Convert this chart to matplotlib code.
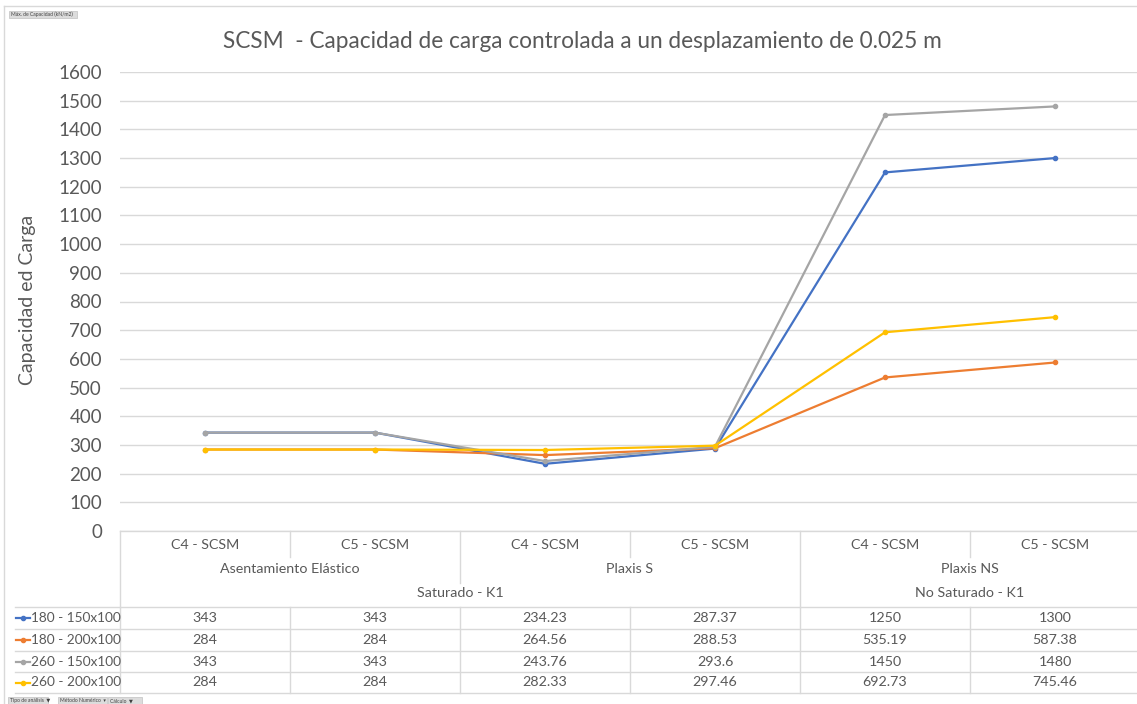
import matplotlib
matplotlib.use("Agg")
import matplotlib.pyplot as plt
from matplotlib.lines import Line2D
from matplotlib.patches import Rectangle

# ---- data -------------------------------------------------------------
categories = ["C4 - SCSM", "C5 - SCSM", "C4 - SCSM", "C5 - SCSM", "C4 - SCSM", "C5 - SCSM"]
methods = ["Asentamiento Elástico", "Plaxis S", "Plaxis NS"]
conditions = ["Saturado - K1", "No Saturado - K1"]
series_names = ["180 - 150x100", "180 - 200x100", "260 - 150x100", "260 - 200x100"]
s_180_150 = [343, 343, 234.23, 287.37, 1250, 1300]
s_180_200 = [284, 284, 264.56, 288.53, 535.19, 587.38]
s_260_150 = [343, 343, 243.76, 293.6, 1450, 1480]
s_260_200 = [284, 284, 282.33, 297.46, 692.73, 745.46]
y_ticks = list(range(0, 1700, 100))

series_values = [s_180_150, s_180_200, s_260_150, s_260_200]
colors = ["#4472C4", "#ED7D31", "#A5A5A5", "#FFC000"]

# ---- figure / pixel helpers ------------------------------------------
W, H = 1137, 704
fig = plt.figure(figsize=(W / 100, H / 100), dpi=100)
plt.rcParams["font.family"] = ["Lato", "DejaVu Sans"]

def fx(x):
    return x / W

def fy(y):
    return 1 - y / H

TXT = "#595959"
GRID = "#d9d9d9"
TABLE_FS = 10.3

# plot area
x0, x1 = 120, 1140
ytop, ybot = 72, 531
ax = fig.add_axes([fx(x0), fy(ybot), (x1 - x0) / W, (ybot - ytop) / H])
xs = list(range(len(categories)))
for vals, col in zip(series_values, colors):
    ax.plot(xs, vals, color=col, lw=1.6, marker="o", ms=3.0, mec=col, mfc=col,
            solid_joinstyle="round")

ax.set_xlim(-0.5, len(categories) - 0.5)
ax.set_ylim(0, 1600)
ax.set_yticks(y_ticks)
ax.set_xticks([])
ax.tick_params(axis="y", length=0, pad=13, labelsize=13.5, labelcolor=TXT)
ax.grid(axis="y", color=GRID, lw=1)
ax.set_axisbelow(True)
for side in ["top", "right", "left"]:
    ax.spines[side].set_visible(False)
ax.spines["bottom"].set_color(GRID)
ax.spines["bottom"].set_linewidth(1)

fig.text(fx(28), fy(300), "Capacidad ed Carga", rotation=90, ha="center", va="center",
         fontsize=14, color=TXT)
fig.text(fx(582), fy(42), "SCSM  - Capacidad de carga controlada a un desplazamiento de 0.025 m",
         ha="center", va="center", fontsize=16.3, color=TXT)

# ---- data table -------------------------------------------------------
col_w = 170
col_edges = [x0 + i * col_w for i in range(len(categories) + 1)]

def hline(y, xa, xb):
    fig.add_artist(Line2D([fx(xa), fx(xb)], [fy(y), fy(y)], color=GRID, lw=1))

def vline(x, ya, yb):
    fig.add_artist(Line2D([fx(x), fx(x)], [fy(ya), fy(yb)], color=GRID, lw=1))

# header block
vline(x0, ybot, 607)
for i, cat in enumerate(categories):
    cx = x0 + (i + 0.5) * col_w
    fig.text(fx(cx), fy(545), cat, ha="center", va="center", fontsize=TABLE_FS, color=TXT)
for i in (1, 3, 5):
    vline(col_edges[i], ybot, 557)
vline(col_edges[2], ybot, 583)
vline(col_edges[4], ybot, 607)
for j, m in enumerate(methods):
    cx = x0 + (2 * j + 1) * col_w
    fig.text(fx(cx), fy(569), m, ha="center", va="center", fontsize=TABLE_FS, color=TXT)
fig.text(fx((col_edges[0] + col_edges[4]) / 2), fy(593), conditions[0],
         ha="center", va="center", fontsize=TABLE_FS, color=TXT)
fig.text(fx((col_edges[4] + col_edges[6]) / 2), fy(593), conditions[1],
         ha="center", va="center", fontsize=TABLE_FS, color=TXT)

# value rows
row_lines = [607, 629, 651, 672, 693]
for y in row_lines:
    hline(y, 15, x1)
for x in col_edges[:-1]:
    vline(x, 607, 693)
for r, (name, vals, col) in enumerate(zip(series_names, series_values, colors)):
    cy = (row_lines[r] + row_lines[r + 1]) / 2
    fig.add_artist(Line2D([fx(16), fx(30)], [fy(cy), fy(cy)], color=col, lw=1.6))
    fig.add_artist(Line2D([fx(23)], [fy(cy)], color=col, marker="o", ms=3, lw=0))
    fig.text(fx(31), fy(cy), name, ha="left", va="center", fontsize=9.8, color=TXT)
    for i, v in enumerate(vals):
        cx = x0 + (i + 0.5) * col_w
        fig.text(fx(cx), fy(cy), f"{v:g}", ha="center", va="center",
                 fontsize=TABLE_FS, color=TXT)

# ---- chart frame and pivot field buttons ---------------------------------
fig.add_artist(Line2D([fx(4), fx(4)], [fy(6), fy(704)], color="#d9d9d9", lw=1))
fig.add_artist(Line2D([fx(4), fx(1137)], [fy(6), fy(6)], color="#d9d9d9", lw=1))

def button(xa, xb, ya, yb, label):
    fig.add_artist(Rectangle((fx(xa), fy(yb)), (xb - xa) / W, (yb - ya) / H,
                             facecolor="#dcdcdc", edgecolor="#c8c8c8", lw=0.6))
    fig.text(fx(xa + 2), fy((ya + yb) / 2), label, ha="left", va="center",
             fontsize=3.6, color="#404040")

button(9, 77, 11, 18, "Máx. de Capacidad (kN/m2)")
button(8, 48, 697, 704, "Tipo de análisis  ▼")
button(58, 107, 697, 704, "Método Numérico  ▾")
button(108, 142, 697, 704, "Cálculo  ▼")

fig.savefig("out.png", dpi=100, facecolor="white")
